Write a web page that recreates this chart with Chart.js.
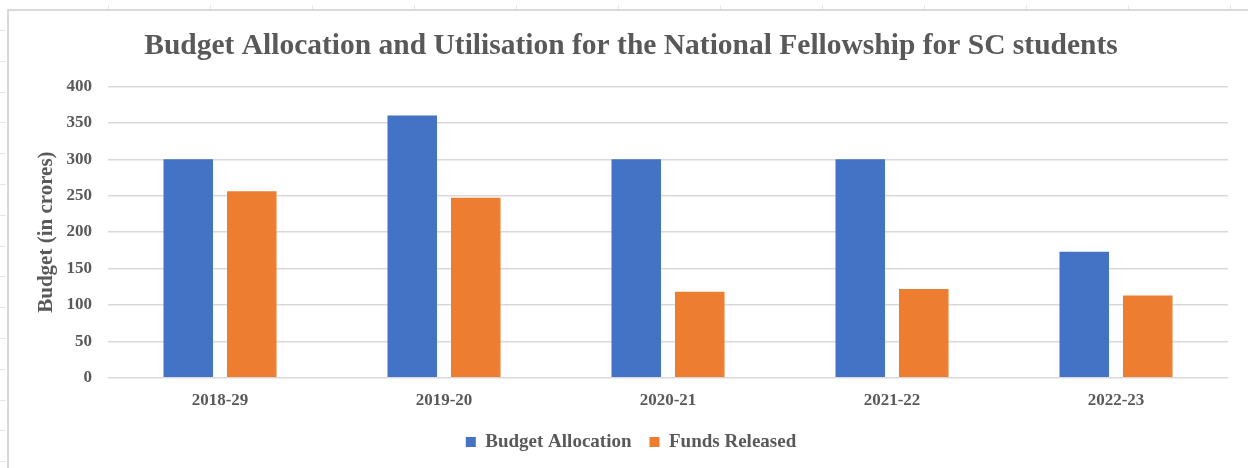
<!DOCTYPE html>
<html>
<head>
<meta charset="utf-8">
<script src="https://cdn.jsdelivr.net/npm/chart.js@4"></script>
<style>
  html, body { margin: 0; padding: 0; background: #fff; }
  #wrap { width: 1248px; height: 468px; }
</style>
</head>
<body>
<div id="wrap"><canvas id="budgetChart" width="1248" height="468"></canvas></div>
<script>
const years = ["2018-29", "2019-20", "2020-21", "2021-22", "2022-23"];
const budgetAllocation = [300, 360, 300, 300, 173];
const fundsReleased = [256, 247, 118, 122, 113];
const yTicks = [0, 50, 100, 150, 200, 250, 300, 350, 400];

const grey = "#595959";
const serif = "'Liberation Serif', 'DejaVu Serif', serif";

// spreadsheet cell lines around the chart object
const sheetFrame = {
  id: "sheetFrame",
  beforeDraw(chart) {
    const ctx = chart.ctx;
    ctx.save();
    ctx.fillStyle = "#fff";
    ctx.fillRect(0, 0, chart.width, chart.height);
    ctx.strokeStyle = "#e6e6e6";
    ctx.lineWidth = 1;
    for (let x = 108; x < chart.width; x += 102) {
      ctx.beginPath();
      ctx.moveTo(x + 0.5, 5);
      ctx.lineTo(x + 0.5, 10);
      ctx.stroke();
    }
    for (let y = 30; y < chart.height; y += 30.8) {
      ctx.beginPath();
      ctx.moveTo(0, Math.round(y) + 0.5);
      ctx.lineTo(6, Math.round(y) + 0.5);
      ctx.stroke();
    }
    ctx.strokeStyle = "#d9d9d9";
    ctx.lineWidth = 2;
    ctx.beginPath();
    ctx.moveTo(8, chart.height);
    ctx.lineTo(8, 10);
    ctx.lineTo(chart.width, 10);
    ctx.stroke();
    ctx.restore();
  },
};

const ctx = document.getElementById("budgetChart").getContext("2d");
new Chart(ctx, {
  type: "bar",
  data: {
    labels: years,
    datasets: [
      {
        label: "Budget Allocation",
        data: budgetAllocation,
        backgroundColor: "#4472c4",
        categoryPercentage: 0.567,
        barPercentage: 0.78,
      },
      {
        label: "Funds Released",
        data: fundsReleased,
        backgroundColor: "#ed7d31",
        categoryPercentage: 0.567,
        barPercentage: 0.78,
      },
    ],
  },
  options: {
    responsive: false,
    animation: false,
    layout: { padding: { left: 34, right: 20, top: 16, bottom: 6.6 } },
    plugins: {
      title: {
        display: true,
        text: "Budget Allocation and Utilisation for the National Fellowship for SC students",
        color: grey,
        font: { family: serif, size: 29.5, weight: "bold" },
        padding: { top: 13, bottom: 22 },
      },
      legend: {
        position: "bottom",
        labels: {
          color: grey,
          font: { family: serif, size: 19, weight: "bold" },
          boxWidth: 10,
          boxHeight: 10,
          padding: 18,
        },
      },
      tooltip: { enabled: false },
    },
    scales: {
      x: {
        afterFit: (scale) => {
          scale.height = 36.6;
        },
        grid: { display: false, drawTicks: false },
        border: { display: false },
        ticks: {
          color: grey,
          padding: 13,
          font: { family: serif, size: 17, weight: "bold" },
        },
      },
      y: {
        min: 0,
        max: 400,
        afterBuildTicks: (scale) => {
          scale.ticks = yTicks.map((v) => ({ value: v }));
        },
        afterFit: (scale) => {
          scale.width = 74;
        },
        grid: { color: "#d9d9d9", lineWidth: 1.5, drawTicks: false },
        border: { display: false },
        ticks: {
          color: grey,
          padding: 16,
          font: { family: serif, size: 17, weight: "bold" },
        },
        title: {
          display: true,
          text: "Budget (in crores)",
          color: grey,
          font: { family: serif, size: 21, weight: "bold" },
          padding: 0,
        },
      },
    },
  },
  plugins: [sheetFrame],
});
</script>
</body>
</html>
